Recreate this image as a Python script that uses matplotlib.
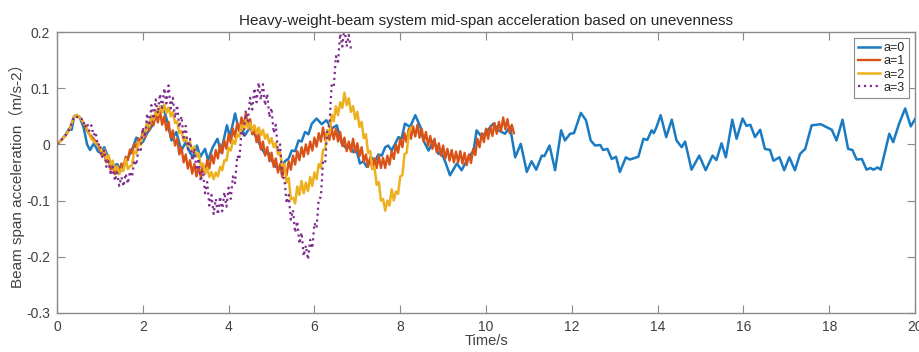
import numpy as np
import matplotlib
matplotlib.use("Agg")
import matplotlib.pyplot as plt

plt.rcParams["font.family"] = ["Liberation Sans", "Noto Sans CJK SC", "DejaVu Sans"]

# a=0: smooth response, read at irregular times
t0 = [0, 0.10, 0.19, 0.28, 0.34, 0.40, 0.46, 0.53, 0.62, 0.70, 0.77, 0.86, 0.95, 1.02, 1.10,
      1.20, 1.31, 1.40, 1.50, 1.58, 1.66, 1.77, 1.85, 1.93, 2.00, 2.10, 2.20, 2.32, 2.44, 2.50,
      2.56, 2.67, 2.78, 2.90, 3.00, 3.10, 3.18, 3.26, 3.34, 3.45, 3.52, 3.63, 3.74, 3.82, 3.96,
      4.03, 4.15, 4.24, 4.30, 4.38, 4.50, 4.58, 4.65, 4.75, 4.85, 4.93, 5.00, 5.10, 5.16, 5.24,
      5.31, 5.40, 5.47, 5.55, 5.63, 5.70, 5.78, 5.86, 5.94, 6.05, 6.17, 6.28, 6.40, 6.52, 6.64,
      6.76, 6.84, 6.91, 6.98, 7.06, 7.14, 7.22, 7.33, 7.41, 7.49, 7.57, 7.65, 7.72, 7.80, 7.96,
      8.03, 8.11, 8.23, 8.35, 8.47, 8.54, 8.66, 8.78, 8.89, 8.96, 9.04, 9.16, 9.32, 9.43, 9.59,
      9.71, 9.78, 9.90, 10.00, 10.17, 10.29, 10.44, 10.56, 10.68, 10.81, 10.95, 11.06, 11.17,
      11.30, 11.36, 11.48, 11.61, 11.75, 11.84, 11.96, 12.05, 12.21, 12.33, 12.44, 12.54, 12.66,
      12.73, 12.83, 12.93, 13.03, 13.12, 13.26, 13.35, 13.47, 13.55, 13.67, 13.76, 13.86, 13.91,
      13.97, 14.07, 14.20, 14.33, 14.44, 14.56, 14.64, 14.79, 14.97, 15.12, 15.28, 15.37, 15.49,
      15.59, 15.74, 15.84, 15.98, 16.07, 16.16, 16.27, 16.39, 16.50, 16.62, 16.70, 16.84, 16.95,
      17.07, 17.20, 17.32, 17.44, 17.59, 17.71, 17.80, 17.93, 18.06, 18.17, 18.31, 18.44, 18.54,
      18.64, 18.76, 18.87, 18.96, 19.03, 19.13, 19.20, 19.40, 19.49, 19.63, 19.77, 19.90, 20.00]
a0 = [0, 0.008, 0.016, 0.028, 0.026, 0.050, 0.052, 0.048, 0.030, 0.000, -0.010, 0.002, -0.012, -0.016, -0.005,
      -0.025, -0.040, -0.035, -0.047, -0.035, -0.023, -0.005, 0.012, 0.006, 0.004, 0.020, 0.031, 0.052, 0.068, 0.060,
      0.043, 0.007, 0.022, -0.011, 0.004, -0.015, -0.023, -0.002, -0.022, -0.008, -0.028, -0.005, 0.010, -0.014, 0.034,
      0.013, 0.055, 0.025, 0.028, 0.016, 0.031, 0.020, 0.013, -0.005, -0.017, -0.015, -0.028, -0.040, -0.042, -0.046,
      -0.030, -0.025, -0.011, -0.012, 0.007, 0.005, 0.022, 0.018, 0.037, 0.046, 0.036, 0.043, 0.028, 0.034, 0.001,
      -0.008, -0.002, -0.014, -0.010, -0.034, -0.030, -0.040, -0.023, -0.030, -0.018, -0.020, -0.005, -0.002, -0.011, 0.013,
      0.010, 0.037, 0.031, 0.052, 0.031, 0.007, -0.011, 0.007, -0.017, -0.015, -0.029, -0.055, -0.034, -0.046, -0.023,
      -0.011, 0.025, 0.013, 0.022, 0.037, 0.025, 0.019, 0.031, -0.023, 0.001, -0.049, -0.030, -0.045,
      -0.020, -0.021, -0.002, -0.046, 0.025, 0.007, 0.019, 0.020, 0.056, 0.043, 0.007, -0.002, -0.001,
      -0.010, -0.008, -0.026, -0.022, -0.049, -0.023, -0.027, -0.024, -0.022, 0.010, 0.008, 0.025, 0.020,
      0.030, 0.052, 0.013, 0.044, 0.007, -0.005, 0.005, -0.045, -0.020, -0.046, -0.020, -0.028, 0.002,
      -0.023, 0.044, 0.010, 0.046, 0.033, 0.035, 0.013, 0.026, -0.008, -0.010, -0.029, -0.023, -0.046,
      -0.023, -0.046, -0.017, -0.008, 0.034, 0.035, 0.036, 0.031, 0.026, 0.007, 0.044, -0.008, -0.010,
      -0.027, -0.026, -0.045, -0.042, -0.045, -0.041, -0.045, 0.019, 0.004, 0.037, 0.064, 0.032, 0.045]

# a=1, a=2, a=3: read every 0.05 s
dt = 0.05
a1 = [0.000, 0.004, 0.008, 0.012, 0.016, 0.022, 0.028, 0.040, 0.050, 0.052,
      0.050, 0.045, 0.040, 0.032, 0.025, 0.018, 0.015, 0.010, 0.005, -0.002,
      -0.010, -0.021, -0.014, -0.032, -0.026, -0.045, -0.039, -0.053, -0.042, -0.050,
      -0.034, -0.040, -0.022, -0.028, -0.009, -0.016, 0.001, -0.006, 0.011, 0.004,
      0.025, 0.012, 0.040, 0.025, 0.050, 0.034, 0.058, 0.039, 0.060, 0.035,
      0.050, 0.025, 0.040, 0.012, 0.025, -0.002, 0.010, -0.018, -0.005, -0.032,
      -0.018, -0.043, -0.028, -0.052, -0.035, -0.057, -0.040, -0.058, -0.035, -0.052,
      -0.028, -0.043, -0.018, -0.034, -0.010, -0.025, 0.000, -0.016, 0.007, -0.008,
      0.018, 0.003, 0.028, 0.013, 0.038, 0.023, 0.048, 0.031, 0.055, 0.030,
      0.045, 0.018, 0.030, 0.004, 0.018, -0.009, 0.005, -0.020, -0.005, -0.030,
      -0.015, -0.040, -0.025, -0.050, -0.035, -0.058, -0.040, -0.055, -0.030, -0.045,
      -0.020, -0.036, -0.012, -0.028, -0.005, -0.022, 0.000, -0.017, 0.005, -0.011,
      0.012, -0.004, 0.020, 0.005, 0.030, 0.008, 0.025, 0.008, 0.030, 0.009,
      0.028, 0.005, 0.022, -0.003, 0.012, -0.012, 0.005, -0.013, 0.010, -0.014,
      0.002, -0.021, -0.005, -0.031, -0.018, -0.040, -0.023, -0.044, -0.025, -0.042,
      -0.020, -0.042, -0.024, -0.042, -0.020, -0.036, -0.012, -0.026, 0.000, -0.015,
      0.010, -0.005, 0.020, 0.004, 0.028, 0.010, 0.032, 0.014, 0.035, 0.012,
      0.028, 0.005, 0.022, -0.002, 0.015, -0.008, 0.010, -0.014, 0.002, -0.020,
      -0.002, -0.025, -0.008, -0.029, -0.010, -0.032, -0.013, -0.032, -0.012, -0.034,
      -0.015, -0.037, -0.018, -0.033, -0.008, -0.019, 0.010, -0.005, 0.020, 0.004,
      0.028, 0.010, 0.032, 0.015, 0.038, 0.019, 0.040, 0.024, 0.048, 0.027,
      0.045, 0.020, 0.035, 0.020]
a2 = [0.000, 0.004, 0.008, 0.012, 0.016, 0.022, 0.028, 0.040, 0.050, 0.052,
      0.050, 0.046, 0.040, 0.034, 0.028, 0.018, 0.010, 0.006, 0.002, -0.002,
      -0.005, -0.016, -0.009, -0.026, -0.019, -0.036, -0.029, -0.046, -0.039, -0.053,
      -0.044, -0.047, -0.026, -0.044, -0.039, -0.037, -0.012, -0.016, 0.004, -0.001,
      0.018, 0.016, 0.038, 0.032, 0.051, 0.044, 0.061, 0.052, 0.068, 0.057,
      0.071, 0.056, 0.066, 0.050, 0.058, 0.038, 0.041, 0.020, 0.024, 0.006,
      0.013, -0.003, 0.004, -0.012, -0.004, -0.022, -0.016, -0.037, -0.034, -0.050,
      -0.042, -0.058, -0.049, -0.062, -0.050, -0.057, -0.040, -0.046, -0.028, -0.029,
      -0.006, -0.011, 0.008, 0.001, 0.018, 0.014, 0.034, 0.026, 0.043, 0.028,
      0.038, 0.024, 0.034, 0.020, 0.030, 0.016, 0.026, 0.010, 0.018, 0.002,
      0.011, -0.005, 0.003, -0.018, -0.014, -0.039, -0.035, -0.068, -0.060, -0.098,
      -0.095, -0.105, -0.075, -0.090, -0.065, -0.087, -0.068, -0.083, -0.058, -0.074,
      -0.050, -0.062, -0.035, -0.042, -0.010, -0.008, 0.025, 0.019, 0.053, 0.041,
      0.068, 0.052, 0.075, 0.065, 0.092, 0.070, 0.082, 0.058, 0.068, 0.045,
      0.058, 0.031, 0.040, 0.011, 0.018, -0.015, -0.012, -0.044, -0.040, -0.072,
      -0.067, -0.100, -0.097, -0.118, -0.100, -0.109, -0.080, -0.100, -0.084, -0.088,
      -0.057, -0.055, -0.017, -0.015, 0.020, 0.030]
a3 = [0.000, 0.004, 0.008, 0.012, 0.016, 0.022, 0.028, 0.040, 0.050, 0.049,
      0.048, 0.044, 0.046, 0.030, 0.038, 0.024, 0.034, 0.016, 0.022, -0.002,
      0.002, -0.024, -0.010, -0.040, -0.030, -0.055, -0.040, -0.065, -0.050, -0.074,
      -0.058, -0.075, -0.052, -0.070, -0.048, -0.058, -0.028, -0.037, -0.006, -0.010,
      0.030, 0.013, 0.055, 0.033, 0.070, 0.045, 0.080, 0.055, 0.090, 0.065,
      0.100, 0.073, 0.105, 0.064, 0.083, 0.047, 0.070, 0.030, 0.050, 0.012,
      0.033, -0.009, 0.010, -0.029, -0.007, -0.046, -0.025, -0.066, -0.047, -0.087,
      -0.067, -0.109, -0.090, -0.124, -0.097, -0.125, -0.093, -0.119, -0.085, -0.111,
      -0.077, -0.097, -0.057, -0.069, -0.020, -0.027, 0.025, 0.013, 0.060, 0.042,
      0.083, 0.062, 0.100, 0.075, 0.110, 0.079, 0.107, 0.069, 0.090, 0.048,
      0.065, 0.020, 0.035, -0.013, 0.000, -0.060, -0.060, -0.105, -0.090, -0.134,
      -0.117, -0.157, -0.137, -0.177, -0.157, -0.199, -0.180, -0.205, -0.170, -0.185,
      -0.140, -0.149, -0.097, -0.094, -0.030, -0.033, 0.025, 0.035, 0.105, 0.101,
      0.157, 0.147, 0.197, 0.174, 0.210, 0.174, 0.195, 0.170]

series = [("a=0", t0, a0, "#1a7ac2", "-", 1.8),
          ("a=1", np.arange(len(a1)) * dt, a1, "#D95319", "-", 1.7),
          ("a=2", np.arange(len(a2)) * dt, a2, "#EDB120", "-", 1.8),
          ("a=3", np.arange(len(a3)) * dt, a3, "#7E2F8E", ":", 1.6)]

fig = plt.figure(figsize=(9.2, 3.52), dpi=100)
ax = fig.add_axes([0.062, 0.111, 0.9326, 0.798])

for name, t, v, c, ls, lw in series:
    ax.plot(t, v, color=c, linestyle=ls, linewidth=lw, label=name)

ax.set_xlim(0, 20)
ax.set_ylim(-0.3, 0.2)
ax.set_xticks(np.arange(0, 21, 2))
yt = [-0.3, -0.2, -0.1, 0, 0.1, 0.2]
ax.set_yticks(yt)
ax.set_yticklabels(["-0.3", "-0.2", "-0.1", "0", "0.1", "0.2"])

grey = "#8a8a8a"
for s in ax.spines.values():
    s.set_color(grey)
    s.set_linewidth(1.0)
ax.tick_params(direction="in", length=6, width=0.8, color=grey, labelcolor="#404040",
               labelsize=10, top=True, right=True, pad=5)

ax.set_title("Heavy-weight-beam system mid-span acceleration based on unevenness",
             fontsize=11, color="#262626", pad=5)
ax.set_xlabel("Time/s", fontsize=10.5, color="#404040", labelpad=0)
ax.set_ylabel("Beam span acceleration（m/s-2）", fontsize=11, color="#404040", labelpad=1,
              family=["Liberation Sans", "Noto Sans CJK SC"])

leg = ax.legend(loc="upper right", fontsize=9, handlelength=1.8, handletextpad=0.3,
                borderpad=0.3, labelspacing=0.1, fancybox=False, framealpha=1,
                borderaxespad=0.5)
leg.get_frame().set_edgecolor(grey)
leg.get_frame().set_linewidth(0.8)
for txt in leg.get_texts():
    txt.set_color("#262626")

fig.savefig("out.png", dpi=100)
